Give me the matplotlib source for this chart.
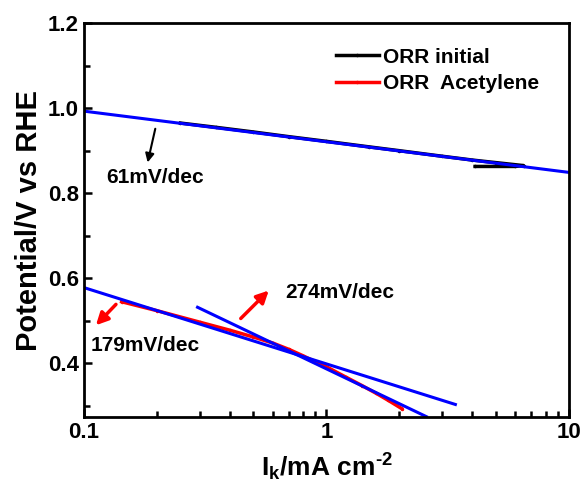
import matplotlib.pyplot as plt
import numpy as np

plt.rcParams['font.family'] = ['Liberation Sans', 'DejaVu Sans']
plt.rcParams['font.weight'] = 'bold'
plt.rcParams['mathtext.fontset'] = 'custom'
plt.rcParams['mathtext.rm'] = 'Liberation Sans:bold'
plt.rcParams['mathtext.bf'] = 'Liberation Sans:bold'
plt.rcParams['mathtext.default'] = 'rm'

# ORR initial (black)
ik_init = [0.25, 0.35, 0.5, 0.7, 1.0, 1.5, 2.0, 3.0, 4.0, 5.0, 6.5, 6.0, 4.1]
e_init = [0.965, 0.955, 0.944, 0.933, 0.922, 0.909, 0.900, 0.887, 0.878, 0.872, 0.865, 0.863, 0.863]

# ORR Acetylene (red), lower branch
ik_acet = [0.143, 0.2, 0.3, 0.4, 0.5, 0.6, 0.7, 0.8, 0.9, 1.0, 1.2, 1.4, 1.6, 1.8, 2.04]
e_acet = [0.545, 0.524, 0.497, 0.478, 0.462, 0.448, 0.433, 0.418, 0.404, 0.392, 0.368, 0.348, 0.330, 0.313, 0.294]

# Tafel fit lines (blue), end points
fit61_x = [0.1, 10]
fit61_y = [0.993, 0.849]
fit179_x = [0.099, 3.40]
fit179_y = [0.579, 0.3035]
fit274_x = [0.294, 2.58]
fit274_y = [0.532, 0.275]

fig = plt.figure(figsize=(5.83, 4.83), dpi=100)
ax = fig.add_axes([0.144, 0.1366, 0.832, 0.8156])

ax.plot(ik_init, e_init, 'k-', marker='.', markersize=3, lw=2.5, label='ORR initial')
ax.plot(ik_acet, e_acet, 'r-', marker='.', markersize=3, lw=2.5, label='ORR  Acetylene')
ax.plot(fit61_x, fit61_y, color='#0000ff', lw=2.2)
ax.plot(fit179_x, fit179_y, color='#0000ff', lw=2.2)
ax.plot(fit274_x, fit274_y, color='#0000ff', lw=2.2)

# arrows and slope labels
ax.annotate('', xy=(0.182, 0.866), xytext=(0.198, 0.958),
            arrowprops=dict(arrowstyle='-|>', color='k', lw=1.5, mutation_scale=13))
ax.text(0.123, 0.838, '61mV/dec', fontsize=15, va='center', ha='left')
ax.annotate('', xy=(0.110, 0.485), xytext=(0.138, 0.5435),
            arrowprops=dict(arrowstyle='-|>', color='r', lw=2.5, mutation_scale=18))
ax.text(0.107, 0.442, '179mV/dec', fontsize=15, va='center', ha='left')
ax.annotate('', xy=(0.589, 0.576), xytext=(0.435, 0.501),
            arrowprops=dict(arrowstyle='-|>', color='r', lw=2.5, mutation_scale=18))
ax.text(0.678, 0.567, '274mV/dec', fontsize=15, va='center', ha='left')

ax.set_xscale('log')
ax.set_xlim(0.1, 10)
ax.set_ylim(0.274, 1.2)
ax.set_yticks([0.4, 0.6, 0.8, 1.0, 1.2])
ax.set_yticks(np.arange(0.3, 1.2, 0.2), minor=True)
ax.set_xticks([0.1, 1, 10])
ax.set_xticklabels(['0.1', '1', '10'])
ax.tick_params(which='both', direction='in', width=1.8, labelsize=16)
ax.tick_params(which='major', length=6)
ax.tick_params(which='minor', length=4)
for s in ax.spines.values():
    s.set_linewidth(2)

ax.set_ylabel('Potential/V vs RHE', fontsize=21, fontweight='bold', labelpad=4)
ax.set_xlabel(r'I$_\mathrm{k}$/mA cm$^\mathrm{\text{-}2}$', fontsize=19, fontweight='bold', labelpad=6)

ax.legend(loc='upper left', bbox_to_anchor=(0.48, 0.985), frameon=False, fontsize=15,
          handlelength=2.1, handletextpad=0.2, labelspacing=0.35)

fig.savefig('out.png', dpi=100)
